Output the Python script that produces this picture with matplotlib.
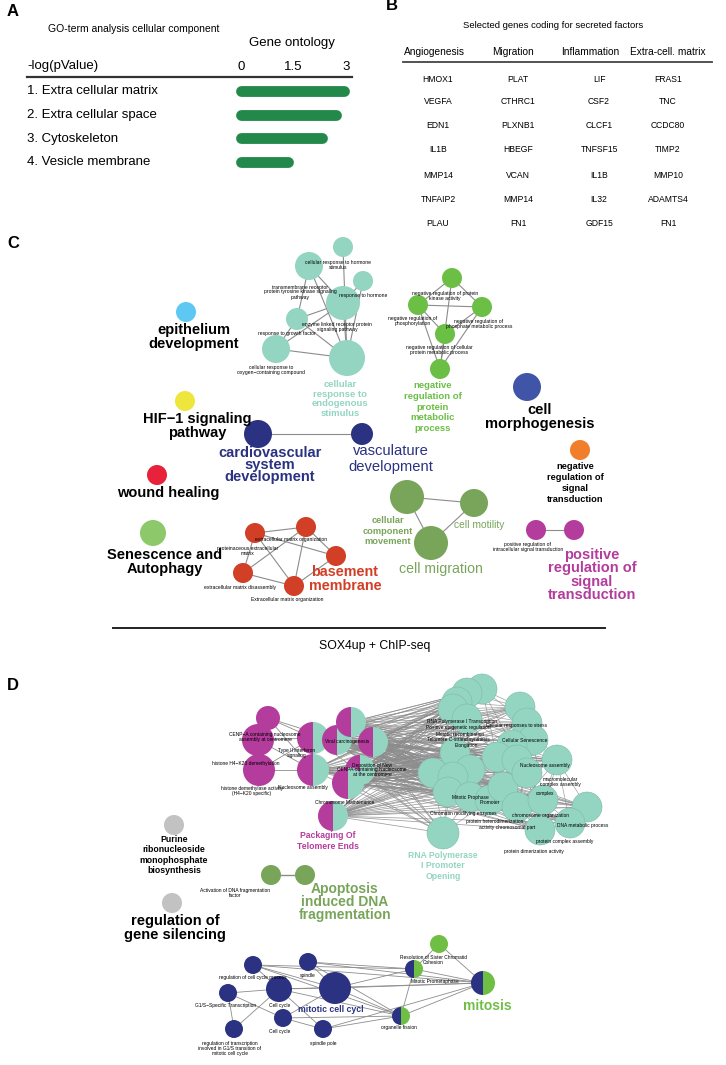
import matplotlib
matplotlib.use("Agg")
import matplotlib.pyplot as plt
from matplotlib.patches import Circle, Wedge

plt.rcParams['font.family'] = ['Liberation Sans', 'DejaVu Sans']

# ---------------- data ----------------
A_TERMS = ["1. Extra cellular matrix", "2. Extra cellular space", "3. Cytoskeleton", "4. Vesicle membrane"]
A_VALUES = [2.93, 2.70, 2.30, 1.33]
A_TICKS = [0, 1.5, 3]
A_TICKLABELS = ["0", "1.5", "3"]

B_HEADERS = ["Angiogenesis", "Migration", "Inflammation", "Extra-cell. matrix"]
B_ANGIO = ["HMOX1", "VEGFA", "EDN1", "IL1B", "MMP14", "TNFAIP2", "PLAU"]
B_MIGR = ["PLAT", "CTHRC1", "PLXNB1", "HBEGF", "VCAN", "MMP14", "FN1"]
B_INFL = ["LIF", "CSF2", "CLCF1", "TNFSF15", "IL1B", "IL32", "GDF15"]
B_ECM = ["FRAS1", "TNC", "CCDC80", "TIMP2", "MMP10", "ADAMTS4", "FN1"]

# network nodes (x, y, r) in page pixels
C_TEAL = [(343, 247, 10), (309, 266, 14), (363, 281, 10), (343, 303, 17), (297, 319, 11), (276, 349, 14), (347, 358, 18)]
C_TEAL_EDGES = [(0, 6), (1, 4), (1, 3), (2, 3), (2, 6), (3, 4), (3, 5), (3, 6), (4, 5), (4, 6), (5, 6), (1, 6)]
C_GREEN = [(452, 278, 10), (418, 305, 10), (482, 307, 10), (445, 334, 10), (440, 369, 10)]
C_GREEN_EDGES = [(0, 1), (0, 2), (0, 4), (1, 2), (1, 4), (2, 4), (1, 3), (2, 3), (3, 4)]
C_RED = [(255, 533, 10), (306, 527, 10), (336, 556, 10), (243, 573, 10), (294, 586, 10)]
C_RED_EDGES = [(0, 1), (0, 4), (0, 3), (1, 2), (1, 4), (1, 3), (3, 4), (2, 4), (0, 2)]
C_MIGR = [(407, 497, 17), (474, 503, 14), (431, 543, 17)]
C_MIGR_EDGES = [(0, 1), (0, 2), (2, 1)]
C_NAVY = [(258, 434, 14), (362, 434, 11)]
C_MAG = [(536, 530, 10), (574, 530, 10)]
C_SINGLE = [(186, 312, 10, '#5ec8f2'), (185, 401, 10, '#eee63d'), (157, 475, 10, '#e8223a'),
            (153, 533, 13, '#8dc86a'), (527, 387, 14, '#4055a8'), (580, 450, 10, '#f07e2a')]

D_GRAY = [(174, 825, 10), (172, 903, 10)]
D_MAG = [(268, 718, 12), (258, 740, 16), (259, 770, 16)]
D_HALF = [(313, 738, 16), (313, 770, 16), (337, 740, 15), (351, 722, 15), (373, 742, 15),
          (360, 770, 15), (348, 783, 16), (333, 816, 15)]
D_TEAL = [(482, 689, 15), (467, 693, 15), (457, 702, 15), (453, 709, 15), (467, 719, 15),
          (520, 707, 15), (527, 723, 15), (533, 740, 15), (512, 745, 15), (497, 757, 15),
          (455, 753, 15), (470, 770, 15), (433, 773, 15), (453, 777, 15), (448, 792, 15),
          (470, 797, 15), (490, 800, 15), (517, 760, 15), (503, 787, 15), (527, 773, 15),
          (517, 807, 15), (543, 800, 15), (557, 760, 15), (587, 807, 15), (570, 823, 15),
          (540, 830, 15), (443, 833, 16)]
D_APOP = [(271, 875, 10), (305, 875, 10)]
D_MITO = [(253, 965, 9), (308, 962, 9), (228, 993, 9), (279, 989, 13), (335, 988, 16),
          (283, 1018, 9), (234, 1029, 9), (323, 1029, 9)]
D_MITO_HALF = [(414, 969, 9), (401, 1016, 9), (483, 983, 12)]
D_MITO_GREEN = [(439, 944, 9)]
# indices: 0-7 navy, 8-10 half, 11 green
D_MITO_EDGES = [(0, 3), (0, 4), (0, 10), (0, 9), (1, 4), (1, 10), (1, 9), (2, 3), (2, 6), (2, 5),
                (3, 4), (3, 6), (3, 7), (4, 8), (4, 9), (4, 10), (4, 5), (5, 7), (5, 9), (7, 9),
                (7, 10), (8, 10), (8, 11), (8, 9), (9, 10), (3, 9), (1, 8), (0, 8), (11, 10), (3, 10)]

# ---------------- colours ----------------
TEAL = '#93d5c1'
NAVY = '#2b3282'
MAG = '#b43c9c'
EDGE = '#8c8c8c'

fig = plt.figure(figsize=(7.26, 10.65), dpi=100)
ax = fig.add_axes([0, 0, 1, 1])
ax.set_xlim(0, 726)
ax.set_ylim(1065, 0)
ax.axis('off')


def node(x, y, r, c, ec='none', z=3):
    ax.add_patch(Circle((x, y), r, facecolor=c, edgecolor=ec, lw=0.4, zorder=z))


def half(x, y, r, cl, cr, z=3):
    ax.add_patch(Wedge((x, y), r, 90, 270, facecolor=cl, edgecolor='none', zorder=z))
    ax.add_patch(Wedge((x, y), r, 270, 90, facecolor=cr, edgecolor='none', zorder=z))


def edges(nodes, pairs, lw=0.8, c=EDGE):
    for i, j in pairs:
        ax.plot([nodes[i][0], nodes[j][0]], [nodes[i][1], nodes[j][1]], color=c, lw=lw, zorder=1)


def txt(x, y, s, fs, c='black', w='normal', ls=1.0, ha='center'):
    ax.text(x, y, s, fontsize=fs, color=c, fontweight=w, ha=ha, va='center',
            linespacing=ls, zorder=5)


# ---------------- panel letters ----------------
for s, x, y in [("A", 13, 12), ("B", 392, 6), ("C", 13, 244), ("D", 13, 685)]:
    txt(x, y, s, 12, w='bold')

# ---------------- panel A ----------------
txt(48, 29, "GO-term analysis cellular component", 7.5, ha='left')
txt(292, 43, "Gene ontology", 9.5)
txt(27, 66, "-log(pValue)", 9.5, ha='left')
ax.plot([27, 352], [77, 77], color='#333333', lw=1.6, zorder=2)
for i, t in enumerate(A_TERMS):
    txt(27, 91 + i * 23.8, t, 9.5, ha='left')

axa = fig.add_axes([241 / 726, 1 - 174 / 1065, 105 / 726, 95 / 1065])
axa.hlines(range(1, len(A_VALUES) + 1), 0, A_VALUES, colors='#23894a', lw=7.8,
           capstyle='round', clip_on=False)
for coll in axa.collections:
    coll.set_capstyle('round')
axa.set_xlim(0, 3)
axa.set_ylim(4.5, 0.5)
axa.xaxis.tick_top()
axa.set_xticks(A_TICKS)
axa.set_xticklabels(A_TICKLABELS)
axa.tick_params(axis='x', length=0, labelsize=9.5, pad=4.5)
axa.set_yticks([])
for sp in axa.spines.values():
    sp.set_visible(False)
axa.patch.set_alpha(0)

# ---------------- panel B ----------------
txt(553, 25, "Selected genes coding for secreted factors", 6.8)
hx = [434, 513, 590, 668]
for x, h in zip(hx, B_HEADERS):
    txt(x, 52, h, 7.3)
ax.plot([403, 712], [62, 62], color='#444444', lw=1.3, zorder=2)
gx = [438, 518, 599, 668]
row_y = [79, 102, 126, 150, 175, 200, 223]
for x, col in zip(gx, [B_ANGIO, B_MIGR, B_INFL, B_ECM]):
    for y, g in zip(row_y, col):
        txt(x, y, g, 6.2)

# ---------------- panel C ----------------
edges(C_TEAL, C_TEAL_EDGES)
edges(C_GREEN, C_GREEN_EDGES)
edges(C_RED, C_RED_EDGES)
edges(C_MIGR, C_MIGR_EDGES)
edges(C_NAVY, [(0, 1)])
edges(C_MAG, [(0, 1)])
for x, y, r in C_TEAL:
    node(x, y, r, TEAL)
for x, y, r in C_GREEN:
    node(x, y, r, '#6bbf45')
for x, y, r in C_RED:
    node(x, y, r, '#d13f26')
for x, y, r in C_MIGR:
    node(x, y, r, '#78a55a')
for x, y, r in C_NAVY:
    node(x, y, r, NAVY)
for x, y, r in C_MAG:
    node(x, y, r, MAG)
for x, y, r, c in C_SINGLE:
    node(x, y, r, c)

small = 3.6
txt(338, 265, "cellular response to hormone\nstimulus", small)
txt(300, 292, "transmembrane receptor\nprotein tyrosine kinase signaling\npathway", small)
txt(363, 295, "response to hormone", small)
txt(337, 327, "enzyme linked receptor protein\nsignaling pathway", small)
txt(287, 333, "response to growth factor", small)
txt(271, 370, "cellular response to\noxygen\u2212containing compound", small)
txt(445, 296, "negative regulation of protein\nkinase activity", small)
txt(413, 321, "negative regulation of\nphosphorylation", small)
txt(479, 324, "negative regulation of\nphosphate metabolic process", small)
txt(439, 350, "negative regulation of cellular\nprotein metabolic process", small)
txt(291, 540, "extracellular matrix organization", small)
txt(248, 551, "proteinaceous extracellular\nmatrix", small)
txt(240, 587, "extracellular matrix disassembly", small)
txt(287, 599, "Extracellular matrix organization", small)
txt(528, 547, "positive regulation of\nintracellular signal transduction", small)

txt(340, 399, "cellular\nresponse to\nendogenous\nstimulus", 6.8, c=TEAL, w='bold', ls=1.09)
txt(433, 407, "negative\nregulation of\nprotein\nmetabolic\nprocess", 6.8, c='#6bbf45', w='bold', ls=1.23)
txt(194, 337, "epithelium\ndevelopment", 10.5, w='bold', ls=0.99)
txt(197, 426, "HIF\u22121 signaling\npathway", 10.5, w='bold', ls=0.93)
txt(168, 493, "wound healing", 10.5, w='bold')
txt(165, 562, "Senescence and\nAutophagy", 10.5, w='bold', ls=1.0)
txt(270, 465, "cardiovascular\nsystem\ndevelopment", 10.5, c=NAVY, w='bold', ls=0.86)
txt(391, 459, "vasculature\ndevelopment", 10.6, c=NAVY, ls=1.23)
txt(540, 417, "cell\nmorphogenesis", 10.5, w='bold', ls=0.93)
txt(575, 483, "negative\nregulation of\nsignal\ntransduction", 6.7, w='bold', ls=1.25)
txt(388, 531, "cellular\ncomponent\nmovement", 6.7, c='#78a55a', w='bold', ls=1.2)
txt(479, 525, "cell motility", 7.4, c='#78a55a')
txt(441, 569, "cell migration", 10.2, c='#78a55a')
txt(345, 579, "basement\nmembrane", 10.4, c='#d13f26', w='bold', ls=0.93)
txt(592, 575, "positive\nregulation of\nsignal\ntransduction", 10.5, c=MAG, w='bold', ls=0.95)

# separator
ax.plot([113, 605], [628, 628], color='#222222', lw=1.4, zorder=2)
txt(375, 646, "SOX4up + ChIP-seq", 8.8)

# ---------------- panel D ----------------
# dense bundle
for hx_, hy_, _ in D_HALF:
    for tx, ty, _ in D_TEAL:
        ax.plot([hx_, tx], [hy_, ty], color=EDGE, lw=0.55, alpha=0.85, zorder=1)
for i in range(len(D_TEAL)):
    for j in range(i + 1, len(D_TEAL)):
        if abs(D_TEAL[i][0] - D_TEAL[j][0]) + abs(D_TEAL[i][1] - D_TEAL[j][1]) < 90:
            ax.plot([D_TEAL[i][0], D_TEAL[j][0]], [D_TEAL[i][1], D_TEAL[j][1]],
                    color=EDGE, lw=0.5, alpha=0.8, zorder=1)
for mx, my, _ in D_MAG:
    for hx_, hy_, _ in D_HALF[:2]:
        ax.plot([mx, hx_], [my, hy_], color=EDGE, lw=0.6, zorder=1)
ax.plot([D_MAG[0][0], D_HALF[2][0]], [D_MAG[0][1], D_HALF[2][1]], color=EDGE, lw=0.6, zorder=1)

for x, y, r in D_GRAY:
    node(x, y, r, '#c2c2c2')
for x, y, r in D_MAG:
    node(x, y, r, MAG)
for x, y, r in D_TEAL:
    node(x, y, r, TEAL, ec='#7fb9a8')
for x, y, r in D_HALF:
    half(x, y, r, MAG, TEAL)

edges(D_APOP, [(0, 1)], lw=1.0)
for x, y, r in D_APOP:
    node(x, y, r, '#78a55a')

mito_all = D_MITO + D_MITO_HALF + D_MITO_GREEN
edges(mito_all, D_MITO_EDGES, lw=0.6)
for x, y, r in D_MITO:
    node(x, y, r, NAVY)
for x, y, r in D_MITO_HALF:
    half(x, y, r, NAVY, '#6fbf45')
for x, y, r in D_MITO_GREEN:
    node(x, y, r, '#6fbf45')

s2 = 3.5
txt(265, 737, "CENP\u2212A containing nucleosome\nassembly at centromere", s2)
txt(246, 764, "histone H4\u2212K20 demethylation", s2)
txt(297, 753, "Type II interferon\nsignaling", s2)
txt(252, 791, "histone demethylase activity\n(H4\u2212K20 specific)", s2)
txt(303, 787, "Nucleosome assembly", s2)
txt(347, 741, "Viral carcinogenesis", s2)
txt(345, 803, "Chromosome Maintenance", s2)
txt(372, 770, "Deposition of New\nCENPA-containing Nucleosome\nat the centromere", s2)
txt(462, 722, "RNA Polymerase I Transcription", s2)
txt(458, 728, "Positive epigenetic regulation", s2)
txt(460, 734, "Meiotic recombination", s2)
txt(458, 740, "Telomere C-strand synthesis", s2)
txt(466, 745, "Elongation", s2)
txt(517, 726, "Cellular responses to stress", s2)
txt(525, 741, "Cellular Senescence", s2)
txt(545, 766, "Nucleosome assembly", s2)
txt(560, 782, "macromolecular\ncomplex assembly", s2)
txt(545, 794, "complex", s2)
txt(470, 798, "Mitotic Prophase", s2)
txt(490, 802, "Promoter", s2)
txt(463, 814, "Chromatin modifying enzymes", s2)
txt(495, 821, "protein heterodimerization", s2)
txt(507, 827, "activity chromosomal part", s2)
txt(540, 815, "chromosome organization", s2)
txt(583, 825, "DNA metabolic process", s2)
txt(565, 842, "protein complex assembly", s2)
txt(534, 851, "protein dimerization activity", s2)
txt(235, 893, "Activation of DNA fragmentation\nfactor", s2)

txt(253, 978, "regulation of cell cycle process", s2)
txt(308, 976, "spindle", s2)
txt(226, 1005, "G1/S\u2212Specific Transcription", s2)
txt(280, 1005, "Cell cycle", s2)
txt(280, 1032, "Cell cycle", s2)
txt(323, 1043, "spindle pole", s2)
txt(230, 1048, "regulation of transcription\ninvolved in G1/S transition of\nmitotic cell cycle", s2)
txt(433, 960, "Resolution of Sister Chromatid\nCohesion", s2)
txt(435, 982, "Mitotic Prometaphase", s2)
txt(399, 1028, "organelle fission", s2)

txt(174, 855, "Purine\nribonucleoside\nmonophosphate\nbiosynthesis", 6.3, w='bold', ls=1.23)
txt(175, 928, "regulation of\ngene silencing", 10.5, w='bold', ls=0.97)
txt(328, 841, "Packaging Of\nTelomere Ends", 6.2, c=MAG, w='bold', ls=1.25)
txt(443, 866, "RNA Polymerase\nI Promoter\nOpening", 6.2, c=TEAL, w='bold', ls=1.25)
txt(345, 902, "Apoptosis\ninduced DNA\nfragmentation", 10.0, c='#78a55a', w='bold', ls=0.9)
txt(487, 1006, "mitosis", 10.0, c='#6fbf45', w='bold')
txt(331, 1010, "mitotic cell cycl", 6.3, c=NAVY, w='bold')

fig.savefig("out.png", dpi=100)
